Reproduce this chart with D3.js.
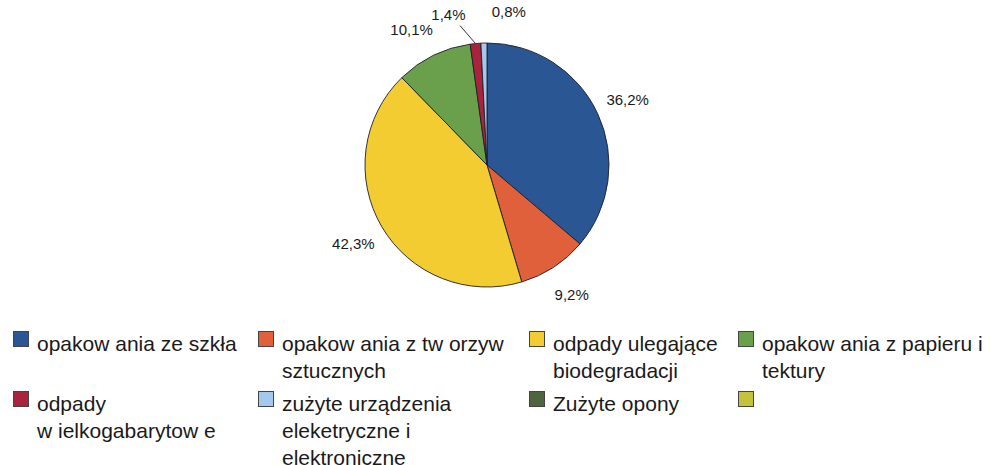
<!DOCTYPE html>
<html>
<head>
<meta charset="utf-8">
<script src="https://cdn.jsdelivr.net/npm/d3@7"></script>
<style>
  body { margin: 0; background: #fff; }
  text { font-family: "Liberation Sans", Arial, sans-serif; fill: #1a1a1a; }
</style>
</head>
<body>
<script>
// chart data
let categories = [
  "opakow ania ze szkła",
  "opakow ania z tw orzyw\nsztucznych",
  "odpady ulegające\nbiodegradacji",
  "opakow ania z papieru i\ntektury",
  "odpady\nw ielkogabarytow e",
  "zużyte urządzenia\neleketryczne i\nelektroniczne",
  "Zużyte opony",
  ""
]
let values = [36.2, 9.2, 42.3, 10.1, 1.4, 0.8, 0, 0]
let valueLabels = ["36,2%", "9,2%", "42,3%", "10,1%", "1,4%", "0,8%", "", ""]
let colors = ["#2b5694", "#e0603c", "#f3cc32", "#6aa04c", "#a8243c", "#a4c8ee", "#4e6540", "#c3c43c"]

let width = 990
let height = 465
let cx = 487
let cy = 165
let radius = 122
let labelRadius = 155

// the two tiny slices get their labels pushed apart (degrees)
let labelShift = [0, 0, 0, -3, -9, 9.5, 0, 0]

let svg = d3.select('body')
    .append('svg')
    .attr('width', width)
    .attr('height', height)

let pie = d3.pie().sort(null).value(d => d)
let arcs = pie(values)
let arc = d3.arc().innerRadius(0).outerRadius(radius)

let g = svg.append('g').attr('transform', 'translate(' + cx + ',' + cy + ')')

g.selectAll('path')
    .data(arcs.filter(d => d.value > 0))
    .enter()
    .append('path')
    .attr('d', arc)
    .attr('fill', d => colors[d.index])
    .attr('stroke', '#1e1e2a')
    .attr('stroke-width', 0.9)

const polar = (angle, r) => [Math.sin(angle) * r, -Math.cos(angle) * r]

arcs.forEach((d, i) => {
    if (!valueLabels[i]) return
    let mid = (d.startAngle + d.endAngle) / 2
    let a = mid + labelShift[i] * Math.PI / 180
    let p = polar(a, labelRadius)
    g.append('text')
        .attr('x', p[0])
        .attr('y', p[1])
        .attr('text-anchor', 'middle')
        .attr('dominant-baseline', 'central')
        .style('font-size', '15px')
        .text(valueLabels[i])
    if (labelShift[i] < -5) {
        let p0 = polar(a + 0.06, labelRadius - 13)
        let p1 = polar(mid, radius)
        g.append('line')
            .attr('x1', p0[0]).attr('y1', p0[1])
            .attr('x2', p1[0]).attr('y2', p1[1])
            .attr('stroke', '#333')
            .attr('stroke-width', 1)
    }
})

// legend
let colX = [13, 258, 529, 738]
let rowY = [331, 391]
let lineH = 27

let legend = svg.append('g')

categories.forEach((c, i) => {
    let x = colX[i % 4]
    let y = rowY[Math.floor(i / 4)]
    let item = legend.append('g').attr('transform', 'translate(' + x + ',' + y + ')')
    item.append('rect')
        .attr('x', 0.5).attr('y', 0.5)
        .attr('width', 15).attr('height', 15)
        .attr('fill', colors[i])
        .attr('stroke', '#444')
        .attr('stroke-width', 1)
    let t = item.append('text')
        .attr('x', 24)
        .attr('y', 20)
        .style('font-size', '21px')
    c.split('\n').forEach((line, j) => {
        t.append('tspan')
            .attr('x', 24)
            .attr('y', 20 + j * lineH)
            .text(line)
    })
})
</script>
</body>
</html>
